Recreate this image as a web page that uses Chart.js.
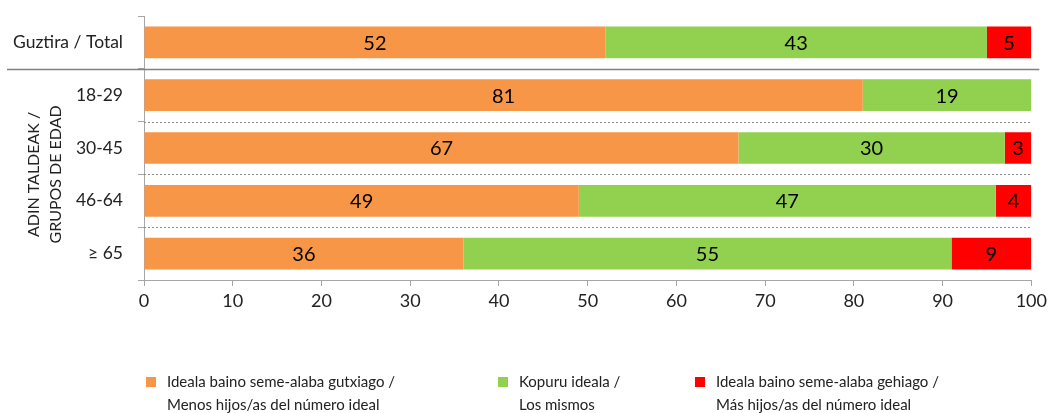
<!DOCTYPE html>
<html>
<head>
<meta charset="utf-8">
<script src="https://cdn.jsdelivr.net/npm/chart.js@4/dist/chart.umd.min.js"></script>
<style>
  html, body { margin: 0; padding: 0; background: #fff; }
  #wrap { width: 1051px; height: 413px; }
</style>
</head>
<body>
<div id="wrap"><canvas id="mycanvas"></canvas></div>
<script>
// categories (top to bottom)
var categorias = ['Guztira / Total', '18-29', '30-45', '46-64', '\u2265 65'];
// series values (%)
var menos = [52, 81, 67, 49, 36];
var mismos = [43, 19, 30, 47, 55];
var mas = [5, 0, 3, 4, 9];
// x tick labels
var xTicks = [0, 10, 20, 30, 40, 50, 60, 70, 80, 90, 100];

var seriesNames = [
    ['Ideala baino seme-alaba gutxiago /', 'Menos hijos/as del n\u00famero ideal'],
    ['Kopuru ideala /', 'Los mismos'],
    ['Ideala baino seme-alaba gehiago /', 'M\u00e1s hijos/as del n\u00famero ideal']
];
var colores = ['#F79646', '#92D050', '#FF0000'];
var fontFam = 'Lato, "Open Sans", sans-serif';

// etiquetas dentro de las barras
const barLabels = {
    id: 'barLabels',
    afterDatasetsDraw(chart) {
        const ctx = chart.ctx;
        ctx.save();
        ctx.font = '20px ' + fontFam;
        ctx.fillStyle = '#000';
        ctx.textAlign = 'center';
        ctx.textBaseline = 'middle';
        chart.data.datasets.forEach(function(ds, i) {
            chart.getDatasetMeta(i).data.forEach(function(bar, j) {
                var v = ds.data[j];
                if (!v) return;
                var cx = (bar.x + bar.base) / 2;
                ctx.fillText(String(v), cx, bar.y + 1);
            });
        });
        ctx.restore();
    }
};

// separadores, titulo vertical y leyenda
const extras = {
    id: 'extras',
    afterDraw(chart) {
        const ctx = chart.ctx;
        const area = chart.chartArea;
        const y = chart.scales.y;
        ctx.save();
        // lineas entre filas
        for (var i = 1; i < categorias.length; i++) {
            var yy = Math.round((y.getPixelForValue(i - 1) + y.getPixelForValue(i)) / 2) + 0.5;
            ctx.beginPath();
            if (i === 1) {
                ctx.strokeStyle = '#808080';
                ctx.lineWidth = 1.5;
                ctx.setLineDash([]);
                ctx.moveTo(7, yy);
                ctx.lineTo(area.right + 8, yy);
            } else {
                ctx.strokeStyle = '#8c8c8c';
                ctx.lineWidth = 1;
                ctx.setLineDash([2, 2]);
                ctx.moveTo(area.left, yy);
                ctx.lineTo(area.right, yy);
            }
            ctx.stroke();
        }
        ctx.setLineDash([]);

        // titulo vertical de grupos de edad
        var midY = (y.getPixelForValue(1) + y.getPixelForValue(4)) / 2;
        ctx.fillStyle = '#222';
        ctx.font = '16px ' + fontFam;
        ctx.textAlign = 'center';
        ctx.textBaseline = 'middle';
        ctx.translate(0, midY);
        ctx.rotate(-Math.PI / 2);
        ctx.fillText('ADIN TALDEAK /', 0, 34);
        ctx.fillText('GRUPOS DE EDAD', 0, 56);
        ctx.setTransform(1, 0, 0, 1, 0, 0);

        // leyenda
        var legX = [146, 498, 695];
        ctx.font = '15px ' + fontFam;
        ctx.textAlign = 'left';
        ctx.textBaseline = 'middle';
        for (var k = 0; k < 3; k++) {
            ctx.fillStyle = colores[k];
            ctx.fillRect(legX[k], 377, 10, 10);
            ctx.fillStyle = '#222';
            ctx.fillText(seriesNames[k][0], legX[k] + 21, 382);
            ctx.fillText(seriesNames[k][1], legX[k] + 21, 405);
        }
        ctx.restore();
    }
};

var ctx_live = document.getElementById('mycanvas');
var myChart = new Chart(ctx_live, {
    type: 'bar',
    data: {
        labels: categorias,
        datasets: [
            { label: seriesNames[0].join(' '), data: menos, backgroundColor: colores[0] },
            { label: seriesNames[1].join(' '), data: mismos, backgroundColor: colores[1] },
            { label: seriesNames[2].join(' '), data: mas, backgroundColor: colores[2] }
        ]
    },
    options: {
        indexAxis: 'y',
        responsive: true,
        maintainAspectRatio: false,
        animation: false,
        layout: { padding: { left: 0, right: 19, top: 16, bottom: 0 } },
        datasets: { bar: { categoryPercentage: 1, barPercentage: 0.6 } },
        plugins: {
            legend: { display: false },
            tooltip: { enabled: false }
        },
        scales: {
            x: {
                stacked: true,
                min: 0,
                max: 100,
                afterBuildTicks: function(scale) {
                    scale.ticks = xTicks.map(function(v) { return { value: v }; });
                },
                afterFit: function(scale) { scale.height = 133; },
                grid: { drawOnChartArea: false, drawTicks: true, tickLength: 6, color: '#a6a6a6' },
                border: { color: '#a6a6a6', width: 1 },
                ticks: { color: '#222', font: { family: fontFam, size: 18 }, padding: 4 }
            },
            y: {
                stacked: true,
                afterFit: function(scale) {
                    scale.width = 144;
                    scale.paddingTop = 0;
                    scale.paddingBottom = 0;
                },
                grid: { offset: true, drawOnChartArea: false, drawTicks: true, tickLength: 6, color: '#a6a6a6' },
                border: { color: '#a6a6a6', width: 1 },
                ticks: { color: '#222', font: { family: fontFam, size: 17.5 }, padding: 15 }
            }
        }
    },
    plugins: [barLabels, extras]
});
</script>
</body>
</html>
